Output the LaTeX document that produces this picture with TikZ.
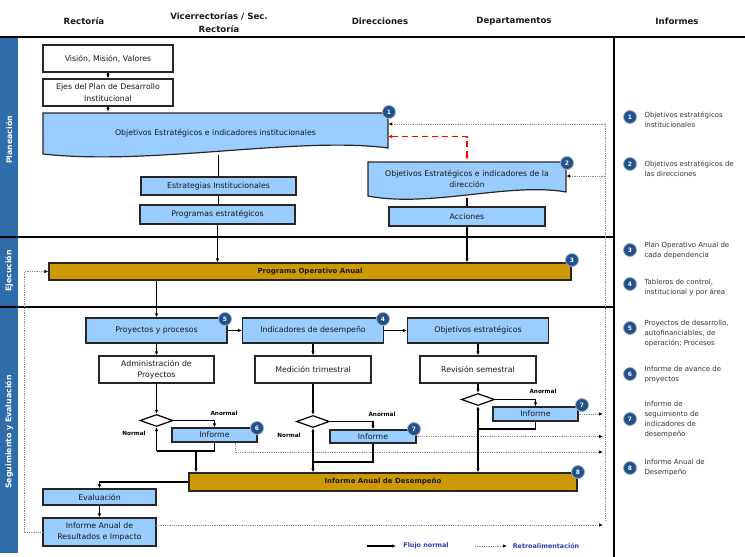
\documentclass[tikz,border=0pt]{standalone}
\usepackage{fontspec}
\setmainfont{DejaVu Sans}
\usetikzlibrary{arrows.meta,shapes.geometric}
\definecolor{lb}{HTML}{99CCFF}
\definecolor{gold}{HTML}{CC9900}
\definecolor{navy}{HTML}{22508C}
\definecolor{bandc}{HTML}{2F6DAA}
\definecolor{legblue}{HTML}{2A3DB0}
\definecolor{txt}{HTML}{333333}
\definecolor{fbgray}{HTML}{8C8C8C}
\newcommand\fsbox{\fontsize{7.8}{11.5}\selectfont}
\newcommand\fsgold{\fontsize{7}{9}\selectfont\bfseries}
\newcommand\fshdr{\fontsize{8.6}{12.5}\selectfont\bfseries}
\newcommand\fsinf{\fontsize{7}{10}\selectfont}
\newcommand\fslab{\fontsize{5.7}{7}\selectfont\bfseries}
\newcommand\fsband{\fontsize{7.8}{9}\selectfont\bfseries}
\newcommand\fsleg{\fontsize{6.4}{8}\selectfont\bfseries}
\newcommand\fsbadge{\fontsize{6}{7}\selectfont\bfseries}
\begin{document}
\begin{tikzpicture}[x=1pt,y=-1pt,
  box/.style={draw=black!85, line width=1.2pt, align=center, inner sep=1pt, font=\fsbox, text=black!90},
  wbox/.style={box, fill=white},
  bbox/.style={box, fill=lb},
  gbox/.style={box, fill=gold, font=\fsgold},
  dia/.style={diamond, draw=black, line width=1.2pt, fill=white, inner sep=0pt, minimum width=33pt, minimum height=12pt},
  badge/.style={circle, fill=navy, draw=navy!45, line width=0.8pt, text=white, font=\fsbadge, inner sep=0pt, minimum size=13pt},
  flow/.style={draw=black, line width=1.2pt, -{Latex[length=4pt,width=3.5pt]}},
  pline/.style={draw=black, line width=1.2pt},
  fbl/.style={draw=fbgray, line width=0.8pt, densely dotted},
  fbarrow/.style={fbl, -{Latex[length=4pt,width=3.5pt,color=black]}},
  redarr/.style={draw=red, line width=1.1pt, dash pattern=on 6pt off 4pt, {Latex[length=4pt,width=3.5pt]}-{Latex[length=4pt,width=3.5pt]}},
  lab/.style={font=\fslab},
  hdr/.style={font=\fshdr, align=center, text=black!90},
  inf/.style={anchor=west, align=left, font=\fsinf, text=txt},
  sepline/.style={draw=black, line width=1.3pt}
]
\useasboundingbox (0,0) rectangle (745,557);

% band and separators
\fill[bandc] (0,37) rectangle (18,553);
\node[rotate=90, text=white, font=\fsband] (lp) at (9,140) {Planeación};
\node[rotate=90, text=white, font=\fsband] (le) at (9,271) {Ejecución};
\node[rotate=90, text=white, font=\fsband] (ls) at (9,432) {Seguimiento y Evaluación};
\draw[sepline] (0,37) -- (745,37);
\draw[sepline] (614,37) -- (614,557);
\draw[sepline] (0,237) -- (614,237);
\draw[sepline] (0,307) -- (614,307);

% headers
\node[hdr] (h1) at (84,21) {Rectoría};
\node[hdr] (h2) at (219,22.5) {Vicerrectorías / Sec.\\Rectoría};
\node[hdr] (h3) at (380,21) {Direcciones};
\node[hdr] (h4) at (514,21) {Departamentos};
\node[hdr] (h5) at (677,21) {Informes};

% feedback dotted lines
\coordinate (fbtop) at (605,124);
\coordinate (fbbot) at (605,521);
\coordinate (fbx) at (603,0);
\coordinate (fb2) at (605,176);
\draw[fbl] (fbtop) -- (fbbot);

% planeacion
\node[wbox, minimum width=130pt, minimum height=27pt] (vmv) at (108,58.5) {Visión, Misión, Valores};
\node[wbox, minimum width=130pt, minimum height=27pt] (ejes) at (108,92.5) {Ejes del Plan de Desarrollo\\Institucional};
\draw[box, fill=lb] (43,113) -- (388,113) -- (388,148) .. controls (300,136) and (150,166) .. (43,154) -- cycle;
\node[font=\fsbox, text=black!90, minimum width=345pt, minimum height=43pt, inner sep=0pt] (oi) at (215.5,133.5) {Objetivos Estratégicos e indicadores institucionales};
\node[bbox, minimum width=155pt, minimum height=18pt] (est) at (218.5,186) {Estrategias Institucionales};
\node[bbox, minimum width=155pt, minimum height=19pt] (prog) at (217.5,214.5) {Programas estratégicos};
\draw[box, fill=lb] (368,162) -- (566,162) -- (566,192) .. controls (510,182) and (430,208) .. (368,196) -- cycle;
\node[font=\fsbox, text=black!90, align=center, minimum width=198pt, minimum height=38pt, inner sep=0pt] (od) at (467,179) {Objetivos Estratégicos e indicadores de la\\dirección};
\node[bbox, minimum width=156pt, minimum height=19pt] (acc) at (467,216.5) {Acciones};

% ejecucion
\node[gbox, minimum width=522pt, minimum height=17pt] (poa) at (310,271.5) {Programa Operativo Anual};

% seguimiento
\node[bbox, minimum width=141pt, minimum height=25pt] (pp) at (156.5,330.5) {Proyectos y procesos};
\node[bbox, minimum width=141pt, minimum height=25pt] (ind) at (313,330.5) {Indicadores de desempeño};
\node[bbox, minimum width=141pt, minimum height=25pt] (obj) at (478,330.5) {Objetivos estratégicos};
\node[wbox, minimum width=115pt, minimum height=27pt] (adm) at (156.5,369.5) {Administración de\\Proyectos};
\node[wbox, minimum width=116pt, minimum height=27pt] (med) at (313,369.5) {Medición trimestral};
\node[wbox, minimum width=116pt, minimum height=27pt] (rev) at (478,369.5) {Revisión semestral};
\node[dia] (d1) at (156.5,420.5) {};
\node[dia] (d2) at (313,421.5) {};
\node[dia] (d3) at (478,399.5) {};
\node[bbox, minimum width=85pt, minimum height=14pt] (i6) at (214.5,435) {Informe};
\node[bbox, minimum width=86pt, minimum height=13pt] (i7a) at (373,436.5) {Informe};
\node[bbox, minimum width=85pt, minimum height=14pt] (i7b) at (535.5,414) {Informe};
\node[gbox, minimum width=388pt, minimum height=18pt] (iad) at (383,482) {Informe Anual de Desempeño};
\node[bbox, minimum width=113pt, minimum height=16pt] (eval) at (99.5,497) {Evaluación};
\node[bbox, minimum width=113pt, minimum height=28pt] (iari) at (99.5,532) {Informe Anual de\\Resultados e Impacto};

% labels
\node[lab] (an1) at (224,413) {Anormal};
\node[lab] (an2) at (382,414) {Anormal};
\node[lab] (an3) at (543,391) {Anormal};
\node[lab] (no1) at (134,433) {Normal};
\node[lab] (no2) at (289,435) {Normal};

% flows planeacion
\draw[flow] (vmv.south) -- (ejes.north);
\draw[flow] (ejes.south) -- (ejes.south |- oi.north);
\draw[pline] (est.north |- oi.south) -- (est.north);
\draw[pline] (est.south) -- (est.south |- prog.north);
\draw[flow] (prog.south) -- (prog.south |- poa.north);
\draw[pline] (od.south) -- (acc.north);
\draw[flow] (acc.south) -- (acc.south |- poa.north);
\coordinate (redL) at (388,136.5);
\draw[redarr] (redL) -| (od.north);

% feedback arrows
\draw[fbarrow] (fbtop) -- (fbtop -| oi.east);
\draw[fbarrow] (fb2) -- (fb2 -| od.east);
\draw[fbarrow] (i7b.east) -- (i7b.east -| fbx);
\draw[fbarrow] (i7a.east) -- (i7a.east -| fbx);
\coordinate (q6) at (235,452);
\draw[fbarrow] (q6 |- i6.south) -- (q6) -- (q6 -| fbx);
\coordinate (iariR) at (156,525);
\draw[fbarrow] (iariR) -- (iariR -| fbx);
\draw[fbarrow] (iari.west) -- ++(-18,0) |- (poa.west);

% flows seguimiento
\draw[flow] (pp.north |- poa.south) -- (pp.north);
\draw[flow] (pp.east) -- (ind.west);
\draw[flow] (ind.east) -- (obj.west);
\draw[flow] (pp.south) -- (adm.north);
\draw[flow] (ind.south) -- (med.north);
\draw[flow] (obj.south) -- (rev.north);
\draw[flow] (adm.south) -- (d1.north);
\draw[flow] (med.south) -- (d2.north);
\draw[flow] (rev.south) -- (d3.north);
\draw[flow] (d1.east) -| (i6.north);
\draw[flow] (d2.east) -| (i7a.north);
\draw[flow] (d3.east) -| (i7b.north);
\coordinate (l1) at (156.5,451);
\coordinate (br1) at (196,451);
\draw[pline] (i6.south) -- (i6.south |- l1) -- (l1);
\draw[flow] (l1) -- (d1.south);
\draw[flow] (br1) -- (br1 |- iad.north);
\coordinate (l2) at (313,462);
\draw[pline] (i7a.south) |- (l2);
\draw[flow] (l2) -- (d2.south);
\draw[flow] (l2) -- (l2 |- iad.north);
\coordinate (l3) at (478,429);
\draw[pline] (i7b.south) |- (l3);
\draw[flow] (l3) -- (d3.south);
\draw[flow] (l3) -- (l3 |- iad.north);
\draw[flow] (iad.west) -| (eval.north);
\draw[flow] (eval.south) -- (iari.north);

% badges
\node[badge] (b1) at (389,112) {1};
\node[badge] (b2) at (567,163) {2};
\node[badge] (b3) at (572,260) {3};
\node[badge] (b4) at (383,319) {4};
\node[badge] (b5) at (225,319) {5};
\node[badge] (b6) at (257,428) {6};
\node[badge] (b7a) at (414,429) {7};
\node[badge] (b7b) at (582,405) {7};
\node[badge] (b8) at (578,472) {8};

% informes column
\node[badge] (r1) at (630,117) {1};
\node[inf] (t1) at (641,120) {Objetivos estratégicos\\institucionales};
\node[badge] (r2) at (630,164) {2};
\node[inf] (t2) at (641,169) {Objetivos estratégicos de\\las direcciones};
\node[badge] (r3) at (630,250) {3};
\node[inf] (t3) at (641,251) {Plan Operativo Anual de\\cada dependencia};
\node[badge] (r4) at (630,284) {4};
\node[inf] (t4) at (641,288) {Tableros de control,\\institucional y por área};
\node[badge] (r5) at (630,328) {5};
\node[inf] (t5) at (641,333.5) {Proyectos de desarrollo,\\autofinanciables, de\\operación; Procesos};
\node[badge] (r6) at (630,374) {6};
\node[inf] (t6) at (641,375) {Informe de avance de\\proyectos};
\node[badge] (r7) at (630,419) {7};
\node[inf] (t7) at (641,420) {Informe de\\seguimiento de\\indicadores de\\desempeño};
\node[badge] (r8) at (630,468) {8};
\node[inf] (t8) at (641,468) {Informe Anual de\\Desempeño};

% legend
\coordinate (lg1a) at (367,546);
\coordinate (lg1b) at (396,546);
\coordinate (lg2a) at (475,546);
\coordinate (lg2b) at (507,546);
\draw[flow] (lg1a) -- (lg1b);
\draw[fbarrow] (lg2a) -- (lg2b);
\node[font=\fsleg, text=legblue] (lgt1) at (426,546) {Flujo normal};
\node[font=\fsleg, text=legblue] (lgt2) at (546,546) {Retroalimentación};
\end{tikzpicture}
\end{document}
